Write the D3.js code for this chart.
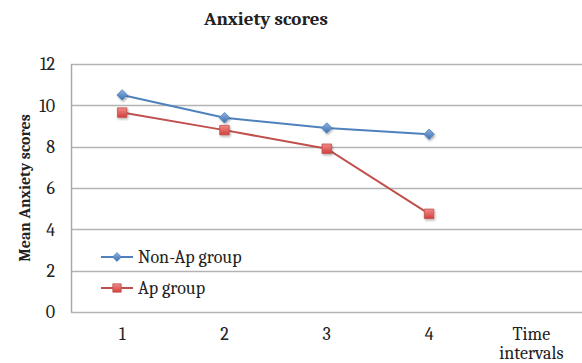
<!DOCTYPE html>
<html>
<head>
<meta charset="utf-8">
<script src="https://cdn.jsdelivr.net/npm/d3@7"></script>
<style>
  html, body { margin: 0; padding: 0; background: #fff; }
  svg { display: block; }
  text { font-family: Cambria, "Liberation Serif", "DejaVu Serif", serif; fill: #222; }
</style>
</head>
<body>
<svg id="chart" width="582" height="363"></svg>
<script>
// Categories along the x axis (the last band only carries the axis title)
const categories = ["1", "2", "3", "4", "Time intervals"];
const timePoints = ["1", "2", "3", "4"];
// Mean anxiety scores per time interval
const nonApValues = [10.5, 9.4, 8.9, 8.6];
const apValues = [9.65, 8.8, 7.9, 4.75];
const yTicks = [0, 2, 4, 6, 8, 10, 12];
const seriesNames = ["Non-Ap group", "Ap group"];

const svg = d3.select("#chart");
const W = 582, H = 363;
const margin = { top: 64, right: 0, bottom: 51, left: 71 };

const x = d3.scaleBand().domain(categories).range([margin.left, W + 0.5]);
const y = d3.scaleLinear().domain([0, 12]).range([H - margin.bottom, margin.top]);

const blue = "#4F81BD", red = "#C0504D";

// Marker gradients and soft shadow
const defs = svg.append("defs");
const gBlue = defs.append("linearGradient").attr("id", "gBlue").attr("x1", 0).attr("y1", 0).attr("x2", 0).attr("y2", 1);
gBlue.append("stop").attr("offset", "0%").attr("stop-color", "#8fb3e3");
gBlue.append("stop").attr("offset", "100%").attr("stop-color", "#3d6fb0");
const gRed = defs.append("linearGradient").attr("id", "gRed").attr("x1", 0).attr("y1", 0).attr("x2", 0).attr("y2", 1);
gRed.append("stop").attr("offset", "0%").attr("stop-color", "#f08a88");
gRed.append("stop").attr("offset", "100%").attr("stop-color", "#d2403c");
const sh = defs.append("filter").attr("id", "shadow").attr("x", "-50%").attr("y", "-50%").attr("width", "200%").attr("height", "200%");
sh.append("feDropShadow").attr("dx", 1).attr("dy", 1.5).attr("stdDeviation", 1).attr("flood-color", "#000").attr("flood-opacity", 0.3);

// Title
svg.append("text")
  .attr("x", 266).attr("y", 25)
  .attr("text-anchor", "middle")
  .style("font-size", "19px").style("font-weight", "bold")
  .text("Anxiety scores");

// Horizontal gridlines
svg.append("g").selectAll("line").data(yTicks).join("line")
  .attr("x1", margin.left).attr("x2", W)
  .attr("y1", d => Math.round(y(d)) + 0.5).attr("y2", d => Math.round(y(d)) + 0.5)
  .attr("stroke", "#b3b3b3").attr("stroke-width", 1.5);

// Left axis line
svg.append("line")
  .attr("x1", margin.left + 0.5).attr("x2", margin.left + 0.5)
  .attr("y1", y(12)).attr("y2", y(0) + 0.5)
  .attr("stroke", "#a8a8a8").attr("stroke-width", 1.5);

// Y axis tick labels
const yAxis = d3.axisLeft(y).tickValues(yTicks).tickSize(0).tickPadding(16);
svg.append("g").attr("transform", `translate(${margin.left},0)`).call(yAxis)
  .call(g => g.select(".domain").remove())
  .call(g => g.selectAll("text").style("font-size", "18px")
    .style("font-family", "Cambria, 'Liberation Serif', serif").attr("fill", "#222"));

// X axis tick labels (categories); the axis title wraps onto two lines
const xAxisG = svg.append("g").attr("transform", `translate(0,${y(0)})`)
  .call(d3.axisBottom(x).tickSize(0).tickPadding(15));
xAxisG.select(".domain").remove();
xAxisG.selectAll("text")
  .style("font-size", "18px").style("font-family", "Cambria, 'Liberation Serif', serif").attr("fill", "#222")
  .each(function(d) {
    const t = d3.select(this);
    const words = d.split(" ");
    if (words.length > 1) {
      t.text(null);
      words.forEach((w, i) => t.append("tspan").attr("x", 0).attr("dy", i === 0 ? "0.71em" : "1.06em").text(w));
      t.attr("dy", null);
    }
  });

// Y axis title
svg.append("text")
  .attr("transform", `translate(30,${y(6)}) rotate(-90)`)
  .attr("text-anchor", "middle")
  .style("font-size", "16px").style("font-weight", "bold")
  .text("Mean Anxiety scores");

const cx = d => x(d) + x.bandwidth() / 2;
const line = d3.line().x(d => cx(d[0])).y(d => y(d[1]));

const diamond = d3.symbol().type(d3.symbolDiamond2).size(70);
const square = d3.symbol().type(d3.symbolSquare).size(90);

function drawSeries(values, color, grad, sym) {
  const pts = timePoints.map((t, i) => [t, values[i]]);
  svg.append("path").datum(pts)
    .attr("d", line).attr("fill", "none")
    .attr("stroke", color).attr("stroke-width", 2);
  svg.append("g").selectAll("path").data(pts).join("path")
    .attr("transform", d => `translate(${cx(d[0])},${y(d[1])})`)
    .attr("d", sym)
    .attr("fill", `url(#${grad})`).attr("stroke", color).attr("stroke-width", 0.8)
    .attr("filter", "url(#shadow)");
}

drawSeries(nonApValues, blue, "gBlue", diamond);
drawSeries(apValues, red, "gRed", square);

// Legend
const legend = [
  { name: seriesNames[0], color: blue, grad: "gBlue", kind: "diamond", yPos: 257 },
  { name: seriesNames[1], color: red, grad: "gRed", kind: "square", yPos: 288 }
];
const lg = svg.append("g").selectAll("g").data(legend).join("g")
  .attr("transform", d => `translate(0,${d.yPos})`);
lg.append("line").attr("x1", 101).attr("x2", 133).attr("y1", 0).attr("y2", 0)
  .attr("stroke", d => d.color).attr("stroke-width", 2);
lg.append("path").attr("transform", "translate(117,0)")
  .attr("d", d => d.kind === "diamond" ? d3.symbol().type(d3.symbolDiamond2).size(50)() : d3.symbol().type(d3.symbolSquare).size(70)())
  .attr("fill", d => `url(#${d.grad})`).attr("stroke", d => d.color).attr("stroke-width", 0.8);
lg.append("text").attr("x", 138).attr("y", 0).attr("dy", "0.35em")
  .style("font-size", "18px").text(d => d.name);
</script>
</body>
</html>
